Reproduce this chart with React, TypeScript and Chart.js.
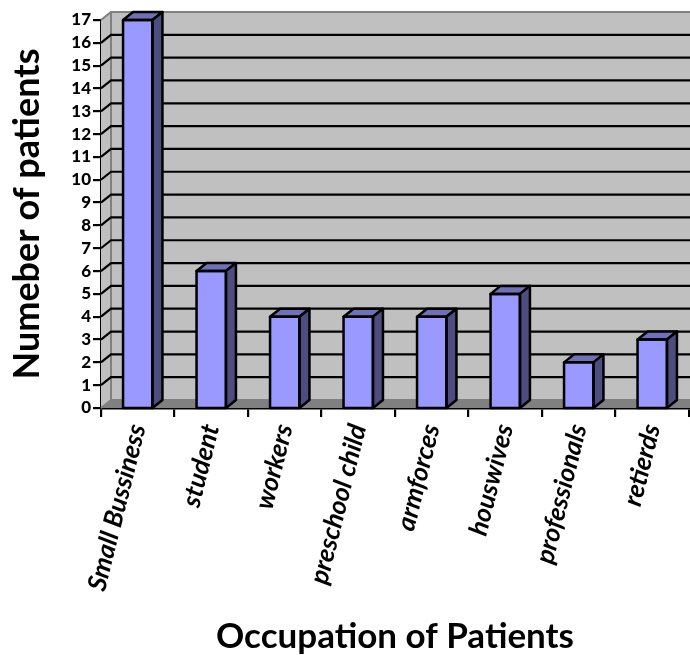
import React, { useEffect, useRef } from "react";
import { Chart, registerables } from "chart.js";

Chart.register(...registerables);

const categories = ["Small Bussiness", "student", "workers", "preschool child", "armforces", "houswives", "professionals", "retierds"];
const patients = [17, 6, 4, 4, 4, 5, 2, 3];
const yMax = 17;
const DX = 10;
const DY = 8;

const wallPlugin = {
  id: "wall3d",
  beforeDatasetsDraw(chart: any) {
    const { ctx, chartArea: a, scales } = chart;
    const y = scales.y;
    ctx.save();
    // back wall
    ctx.fillStyle = "#c0c0c0";
    ctx.fillRect(a.left + DX, a.top - DY, a.right - a.left, a.bottom - a.top);
    // left wall
    ctx.beginPath();
    ctx.moveTo(a.left, a.top);
    ctx.lineTo(a.left + DX, a.top - DY);
    ctx.lineTo(a.left + DX, a.bottom - DY);
    ctx.lineTo(a.left, a.bottom);
    ctx.closePath();
    ctx.fill();
    // floor
    ctx.fillStyle = "#808080";
    ctx.beginPath();
    ctx.moveTo(a.left, a.bottom);
    ctx.lineTo(a.left + DX, a.bottom - DY);
    ctx.lineTo(a.right + DX, a.bottom - DY);
    ctx.lineTo(a.right + DX, a.bottom);
    ctx.closePath();
    ctx.fill();
    // wall outlines
    ctx.strokeStyle = "#808080";
    ctx.lineWidth = 2;
    ctx.beginPath();
    ctx.moveTo(a.left, a.top);
    ctx.lineTo(a.left + DX, a.top - DY);
    ctx.lineTo(a.right + DX, a.top - DY);
    ctx.moveTo(a.left + DX, a.top - DY);
    ctx.lineTo(a.left + DX, a.bottom - DY);
    ctx.lineTo(a.right + DX, a.bottom - DY);
    ctx.moveTo(a.left + DX, a.bottom - DY);
    ctx.lineTo(a.left, a.bottom);
    ctx.stroke();
    // grid lines
    ctx.strokeStyle = "#000000";
    ctx.lineWidth = 2.2;
    ctx.beginPath();
    for (let v = 1; v < yMax; v++) {
      const p = y.getPixelForValue(v);
      ctx.moveTo(a.left, p);
      ctx.lineTo(a.left + DX, p - DY);
      ctx.lineTo(a.right + DX, p - DY);
    }
    ctx.stroke();
    ctx.restore();
  },
  afterDatasetsDraw(chart: any) {
    const { ctx, chartArea: a } = chart;
    const els = chart.getDatasetMeta(0).data;
    ctx.save();
    ctx.strokeStyle = "#000000";
    ctx.lineWidth = 2.5;
    ctx.lineJoin = "round";
    els.forEach((el: any) => {
      const half = el.width / 2;
      const l = el.x - half;
      const r = el.x + half;
      const t = el.y;
      const b = a.bottom;
      ctx.fillStyle = "#7070b8";
      ctx.beginPath();
      ctx.moveTo(l, t);
      ctx.lineTo(l + DX, t - DY);
      ctx.lineTo(r + DX, t - DY);
      ctx.lineTo(r, t);
      ctx.closePath();
      ctx.fill();
      ctx.stroke();
      ctx.fillStyle = "#4d4d80";
      ctx.beginPath();
      ctx.moveTo(r, t);
      ctx.lineTo(r + DX, t - DY);
      ctx.lineTo(r + DX, b - DY);
      ctx.lineTo(r, b);
      ctx.closePath();
      ctx.fill();
      ctx.stroke();
      ctx.strokeRect(l, t, r - l, b - t);
    });
    ctx.restore();
  },
};

export default function App() {
  const ref = useRef<HTMLCanvasElement>(null);
  useEffect(() => {
    const chart = new Chart(ref.current as HTMLCanvasElement, {
      type: "bar",
      data: {
        labels: categories,
        datasets: [
          {
            data: patients,
            backgroundColor: "#9999ff",
            borderWidth: 0,
            barPercentage: 0.4,
            categoryPercentage: 1,
          },
        ],
      },
      options: {
        responsive: false,
        animation: false,
        layout: { padding: { top: 20, right: 1, left: 0, bottom: 0 } },
        plugins: { legend: { display: false }, tooltip: { enabled: false } },
        scales: {
          x: {
            afterFit: (s: any) => {
              s.height = 247;
            },
            border: { color: "#000", width: 2.5 },
            grid: { drawOnChartArea: false, color: "#000", lineWidth: 2.2, tickLength: 9, offset: true },
            ticks: {
              autoSkip: false,
              minRotation: 76,
              maxRotation: 76,
              padding: 4,
              color: "#000",
              font: { family: "Lato", size: 26, style: "italic", weight: "bold" },
            },
            title: {
              display: true,
              text: "Occupation of Patients",
              color: "#000",
              padding: { top: 0, bottom: -3 },
              font: { family: "Lato", size: 35, weight: "bold" },
            },
          },
          y: {
            min: 0,
            max: yMax,
            afterFit: (s: any) => {
              s.width = 101;
            },
            border: { color: "#000", width: 2.5 },
            grid: { drawOnChartArea: false, color: "#000", lineWidth: 2.2, tickLength: 8 },
            ticks: {
              stepSize: 1,
              autoSkip: false,
              padding: 2,
              color: "#000",
              font: { family: "Lato", size: 17, weight: "900" },
            },
            title: {
              display: true,
              text: "Numeber of patients",
              color: "#000",
              padding: { top: 6, bottom: 0 },
              font: { family: "Lato", size: 36, weight: "bold" },
            },
          },
        },
      },
      plugins: [wallPlugin],
    } as any);
    return () => chart.destroy();
  }, []);
  return (
    <div style={{ position: "fixed", left: 0, top: 0, width: 690, height: 655, background: "#fff" }}>
      <canvas ref={ref} width={690} height={655} style={{ display: "block" }} />
    </div>
  );
}
